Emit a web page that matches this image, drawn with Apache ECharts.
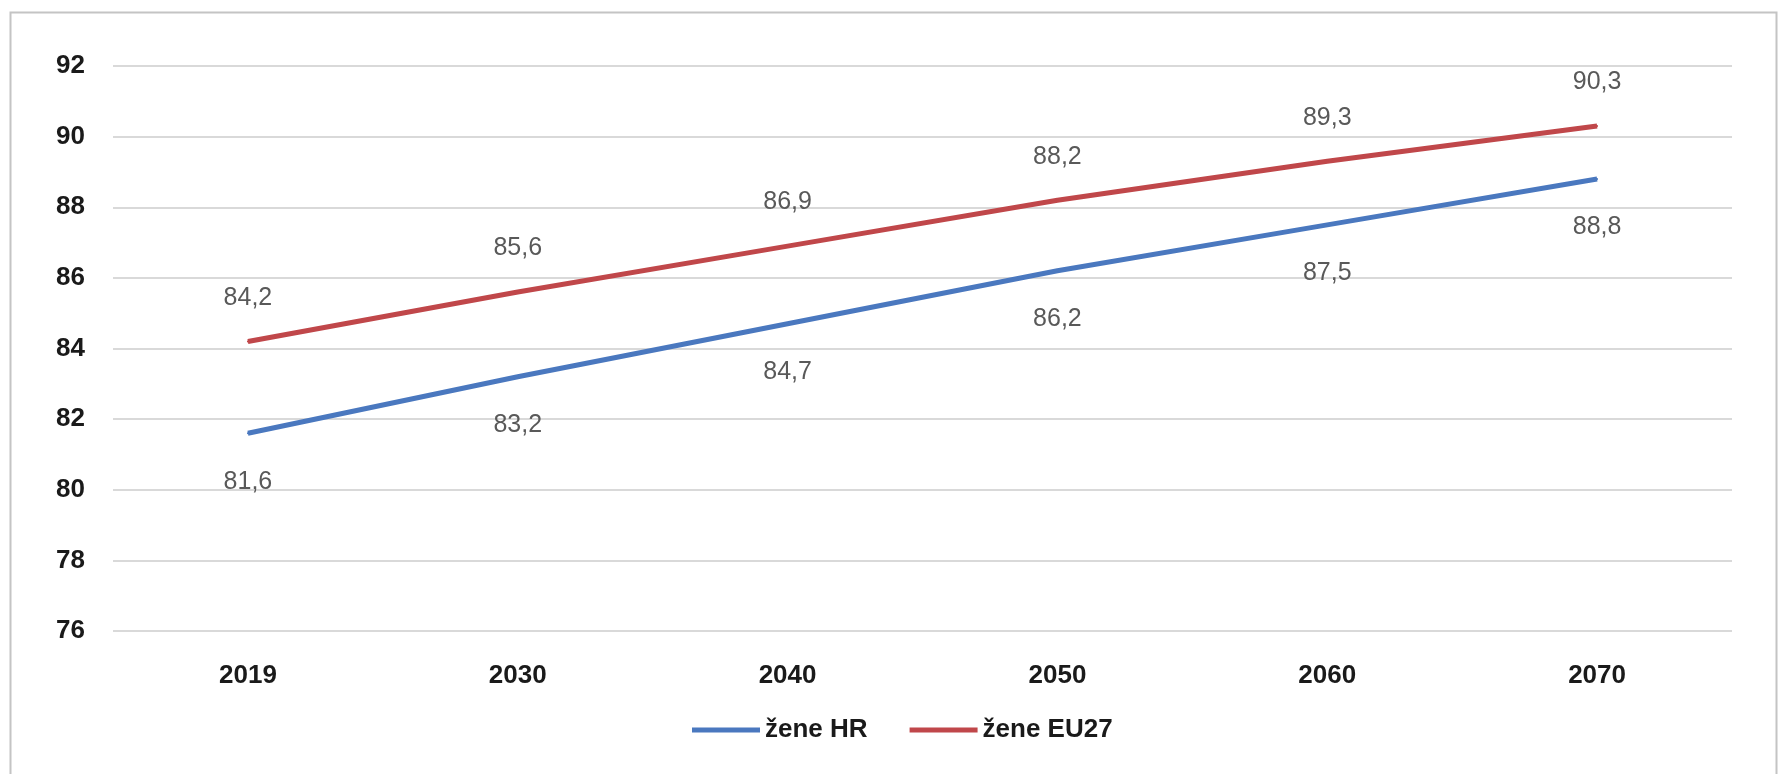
<!DOCTYPE html>
<html>
<head>
<meta charset="utf-8">
<script src="https://cdn.jsdelivr.net/npm/echarts@6/dist/echarts.min.js"></script>
<style>
html,body{margin:0;padding:0;background:#fff;}
#c{width:1780px;height:774px;}
</style>
</head>
<body>
<div id="c"></div>
<script>
var categories = ['2019', '2030', '2040', '2050', '2060', '2070'];
var zeneHR = [81.6, 83.2, 84.7, 86.2, 87.5, 88.8];
var zeneEU27 = [84.2, 85.6, 86.9, 88.2, 89.3, 90.3];
var seriesNames = ['žene HR', 'žene EU27'];
var yTicks = {min: 76, max: 92, interval: 2};

var font = '"Liberation Sans", Arial, sans-serif';
var chart = echarts.init(document.getElementById('c'));
function fmt(p){ return Number(p.value).toFixed(1).replace('.', ','); }
chart.setOption({
  animation: false,
  backgroundColor: '#fff',
  graphic: [{
    type: 'rect', left: 8, top: 10,
    shape: {width: 1766, height: 800},
    style: {fill: 'none', stroke: '#c4c4c4', lineWidth: 2}
  }],
  grid: {left: 113, right: 48, top: 66, bottom: 143, containLabel: false},
  legend: {
    data: seriesNames,
    top: 712, left: 687,
    icon: 'rect', itemWidth: 68, itemHeight: 5, itemGap: 42,
    textStyle: {fontFamily: font, fontSize: 26, fontWeight: 'bold', color: '#1a1a1a'}
  },
  xAxis: {
    type: 'category', data: categories, boundaryGap: true,
    axisLine: {show: false}, axisTick: {show: false},
    axisLabel: {fontFamily: font, fontSize: 26, fontWeight: 'bold', color: '#1a1a1a', margin: 32}
  },
  yAxis: {
    type: 'value', min: yTicks.min, max: yTicks.max, interval: yTicks.interval,
    axisLine: {show: false}, axisTick: {show: false},
    axisLabel: {fontFamily: font, fontSize: 26, fontWeight: 'bold', color: '#1a1a1a', margin: 28},
    splitLine: {lineStyle: {color: '#d9d9d9', width: 2}}
  },
  series: [
    {
      name: seriesNames[0], type: 'line', data: zeneHR,
      symbol: 'circle', symbolSize: 2, showSymbol: true,
      lineStyle: {color: '#4a78bf', width: 5}, itemStyle: {color: '#4a78bf'},
      label: {show: true, position: 'bottom', distance: 35, formatter: fmt,
        fontFamily: font, fontSize: 25, color: '#595959'}
    },
    {
      name: seriesNames[1], type: 'line', data: zeneEU27,
      symbol: 'circle', symbolSize: 2, showSymbol: true,
      lineStyle: {color: '#c0474a', width: 5}, itemStyle: {color: '#c0474a'},
      label: {show: true, position: 'top', distance: 30, formatter: fmt,
        fontFamily: font, fontSize: 25, color: '#595959'}
    }
  ]
});
</script>
</body>
</html>
